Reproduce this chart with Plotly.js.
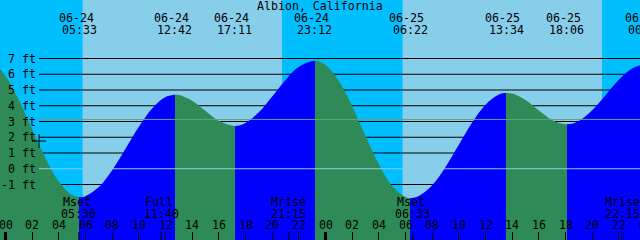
<!DOCTYPE html>
<html><head><meta charset="utf-8">
<script src="https://cdn.plot.ly/plotly-3.0.1.min.js"></script>
<style>
html,body{margin:0;padding:0;width:640px;height:240px;overflow:hidden;background:#87CEEB}
#chart{position:absolute;left:-40px;top:0;width:720px;height:240px}
</style></head><body><div id="chart"></div>
<script>
// ---------- data ----------
const stationName = "Albion, California";
// high / low tides  (MM-DD HH:MM, local time) and heights in ft
const tideEventTimes   = ["06-23 22:18","06-24 05:33","06-24 12:42","06-24 17:11","06-24 23:12","06-25 06:22","06-25 13:34","06-25 18:06","06-26 00:02"];
const tideEventHeights = [6.90, -1.80, 4.70, 2.72, 6.86, -1.86, 4.81, 2.82, 6.65];
// hourly readings of the tide curve (hours after 06-24 00:00) and heights in ft
const sampleHours   = [-1, 0, 1, 2, 3, 4, 5, 6, 7, 8, 9, 10, 11, 12, 13, 14, 15, 16, 18, 19, 20, 21, 22, 24, 25, 26, 27, 28, 29, 30, 31, 32, 33, 34, 35, 36, 37, 38, 39, 40, 41, 43, 44, 45, 46, 47];
const sampleHeights = [6.75, 5.88, 4.37, 2.51, 0.66, -0.83, -1.67, -1.74, -1.16, -0.09, 1.27, 2.67, 3.83, 4.55, 4.68, 4.32, 3.67, 3.04, 2.91, 3.58, 4.58, 5.64, 6.47, 6.59, 5.57, 3.97, 2.09, 0.28, -1.10, -1.80, -1.73, -1.05, 0.11, 1.52, 2.93, 4.06, 4.71, 4.77, 4.36, 3.70, 3.10, 3.03, 3.71, 4.67, 5.65, 6.37];
// moon events
const moonEventNames = ["Mset", "Full", "Mrise", "Mset", "Mrise"];
const moonEventTimes = ["06-24 05:30", "06-24 11:40", "06-24 21:15", "06-25 06:33", "06-25 22:15"];
// sun
const sunsetTimes  = ["06-23 20:44", "06-24 20:44", "06-25 20:44"];
const sunriseTimes = ["06-24 05:47", "06-25 05:47", "06-26 05:48"];
// height scale
const heightLevels = [7, 6, 5, 4, 3, 2, 1, 0, -1];
const heightLabels = ["7 ft", "6 ft", "5 ft", "4 ft", "3 ft", "2 ft", "1 ft", "0 ft", "-1 ft"];
const datumLevel = 0;
const meanLevel = 3.13;
// hour ticks (hours after 06-24 00:00)
const hourTicks      = [0, 2, 4, 6, 8, 10, 12, 14, 16, 18, 20, 22, 24, 26, 28, 30, 32, 34, 36, 38, 40, 42, 44, 46, 48];
const hourTickLabels = ["00","02","04","06","08","10","12","14","16","18","20","22","00","02","04","06","08","10","12","14","16","18","20","22","00"];
const midnightTicks  = [0, 24, 48];
// current-time mark
const nowTime = "06-24 02:31";
const nowHeight = 1.76;

// ---------- styling ----------
const dayColor = "#87CEEB", nightColor = "#00BFFF";
const floodColor = "#0000FF", ebbColor = "#2E8B57";
const datumColor = "#87CEEB", meanColor = "#5FA08A";
const FONT = {family: "DejaVu Sans Mono, monospace", size: 11.6, color: "#000"};

function toHours(s) { // "MM-DD HH:MM" -> hours after 06-24 00:00
  const [md, hm] = s.split(" ");
  const day = +md.split("-")[1];
  const [h, m] = hm.split(":").map(Number);
  return (day - 24) * 24 + h + m / 60;
}

const evH = tideEventTimes.map(toHours);
let pts = sampleHours.map((t, i) => [t, sampleHeights[i]]).concat(evH.map((t, i) => [t, tideEventHeights[i]]));
pts.sort((a, b) => a[0] - b[0]);
const tStart = evH[0], tEnd = evH[evH.length - 1];
pts = pts.filter(p => p[0] >= tStart && p[0] <= tEnd);
const curveX = pts.map(p => p[0]), curveY = pts.map(p => p[1]);

// flood / ebb colour scale along time
const scale = [];
for (let k = 0; k < evH.length - 1; k++) {
  const c = tideEventHeights[k + 1] > tideEventHeights[k] ? floodColor : ebbColor;
  scale.push([(evH[k] - tStart) / (tEnd - tStart), c]);
  scale.push([(evH[k + 1] - tStart) / (tEnd - tStart), c]);
}
scale[0][0] = 0; scale[scale.length - 1][0] = 1;

const traces = [
  {x: [tStart, tEnd], y: [-10, -10], mode: "lines", line: {width: 0, color: "rgba(0,0,0,0)"}, hoverinfo: "skip"},
  {x: curveX, y: curveY, mode: "lines", line: {width: 0, shape: "spline", smoothing: 1, color: "rgba(0,0,0,0)"},
   fill: "tonexty", fillcolor: floodColor,
   fillgradient: {type: "horizontal", start: tStart, stop: tEnd, colorscale: scale}, hoverinfo: "skip"},
  {x: [toHours(nowTime)], y: [nowHeight], mode: "markers",
   marker: {symbol: "cross-thin", size: 10, color: "#000", line: {width: 1, color: "#000"}}, hoverinfo: "skip"}
];

const gridX0 = 79 / 720;
const shapes = [];
sunsetTimes.forEach((s, i) => {
  shapes.push({type: "rect", layer: "below", xref: "x", yref: "paper", x0: toHours(s), x1: toHours(sunriseTimes[i]), y0: 0, y1: 1,
    fillcolor: nightColor, line: {width: 0}});
});
heightLevels.forEach(v => {
  if (v === datumLevel) return;
  shapes.push({type: "line", layer: "below", xref: "paper", yref: "y", x0: gridX0, x1: 1, y0: v, y1: v, line: {color: "#000", width: 1}});
});
shapes.push({type: "line", layer: "above", xref: "paper", yref: "y", x0: gridX0, x1: 1, y0: meanLevel, y1: meanLevel, line: {color: meanColor, width: 1}});
shapes.push({type: "line", layer: "above", xref: "paper", yref: "y", x0: gridX0, x1: 1, y0: datumLevel, y1: datumLevel, line: {color: datumColor, width: 1}});
midnightTicks.forEach(t => {
  shapes.push({type: "line", layer: "above", xref: "x", yref: "paper", x0: t, x1: t, y0: 0, y1: 8 / 240, line: {color: "#000", width: 3}});
});
moonEventTimes.forEach(s => {
  const t = toHours(s);
  shapes.push({type: "line", layer: "above", xref: "x", yref: "paper", x0: t, x1: t, y0: 0, y1: 8 / 240, line: {color: "#000", width: 1}});
});

const ann = [];
function A(o) { ann.push(Object.assign({showarrow: false, font: FONT, borderpad: 0, borderwidth: 0}, o)); }
A({text: stationName, xref: "paper", yref: "paper", x: 360 / 720, y: 1, yanchor: "middle", yshift: -6});
tideEventTimes.forEach((s, i) => {
  const t = evH[i];
  const [md, hm] = s.split(" ");
  A({text: md, xref: "x", yref: "paper", x: t, y: 1, yanchor: "middle", yshift: -18, xshift: -3.5});
  A({text: hm, xref: "x", yref: "paper", x: t, y: 1, yanchor: "middle", yshift: -30});
});
heightLevels.forEach((v, i) => {
  A({text: heightLabels[i], xref: "paper", yref: "y", x: 76 / 720, y: v, xanchor: "right", yanchor: "middle"});
});
hourTicks.forEach((t, i) => {
  A({text: hourTickLabels[i], xref: "x", yref: "paper", x: t, y: 0, yanchor: "middle", yshift: 15});
});
moonEventTimes.forEach((s, i) => {
  const t = toHours(s);
  const name = moonEventNames[i];
  A({text: name, xref: "x", yref: "paper", x: t, y: 0, yanchor: "middle", yshift: 38.5, xshift: name.length % 2 ? 0 : -2});
  A({text: s.split(" ")[1], xref: "x", yref: "paper", x: t, y: 0, yanchor: "middle", yshift: 26.5});
});

const layout = {
  width: 720, height: 240, margin: {l: 0, r: 0, t: 0, b: 0, pad: 0},
  paper_bgcolor: dayColor, plot_bgcolor: dayColor, showlegend: false,
  xaxis: {range: [-3.4125, 50.5875], showgrid: false, zeroline: false, showline: false,
          ticks: "inside", ticklen: 8, tickwidth: 1, tickcolor: "#000", tickmode: "array", tickvals: hourTicks,
          showticklabels: false, fixedrange: true},
  yaxis: {range: [-4.524, 10.714], showgrid: false, zeroline: false, showline: false, showticklabels: false, ticks: "", fixedrange: true},
  shapes: shapes, annotations: ann
};
Plotly.newPlot("chart", traces, layout, {staticPlot: true, displayModeBar: false});
</script></body></html>
